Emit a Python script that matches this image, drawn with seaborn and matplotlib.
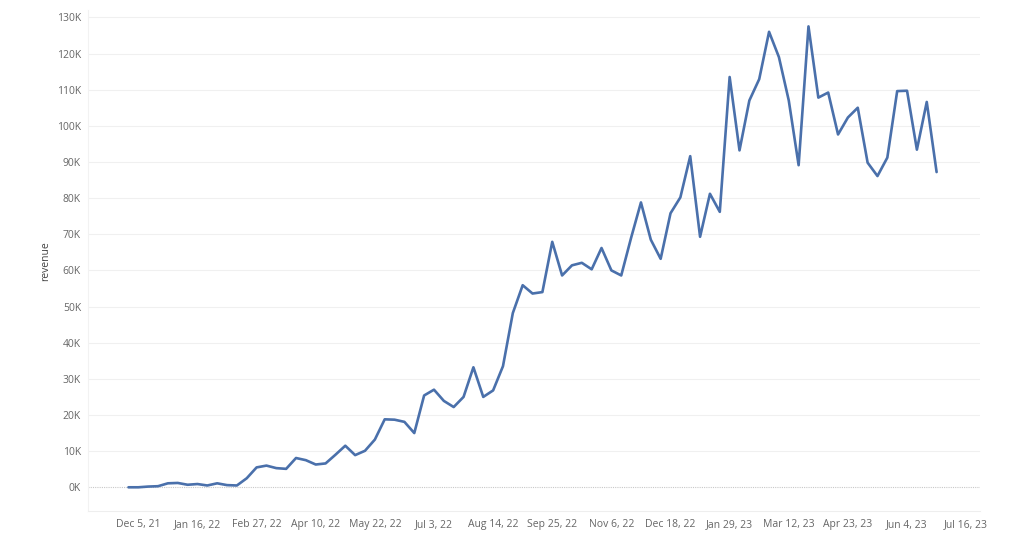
import pandas as pd
import numpy as np
import matplotlib.pyplot as plt
import seaborn as sns

# weekly revenue, in thousands, starting week of Nov 28, 2021
start_week = "2021-11-28"
revenue_k = [
    0.0, 0.0, 0.2, 0.3, 1.1, 1.2, 0.7, 0.9, 0.5, 1.1,
    0.6, 0.5, 2.5, 5.5, 6.0, 5.3, 5.1, 8.1, 7.5, 6.3,
    6.6, 9.0, 11.5, 8.9, 10.1, 13.2, 18.8, 18.7, 18.1, 15.0,
    25.4, 27.0, 23.9, 22.2, 25.0, 33.2, 25.0, 26.8, 33.5, 48.2,
    55.9, 53.6, 54.0, 67.9, 58.6, 61.4, 62.1, 60.3, 66.2, 60.0,
    58.6, 69.0, 78.8, 68.5, 63.2, 75.8, 80.2, 91.6, 69.3, 81.2,
    76.2, 113.5, 93.2, 107.0, 112.9, 126.0, 119.0, 107.0, 89.1, 127.5,
    107.8, 109.2, 97.6, 102.3, 105.0, 89.8, 86.1, 91.2, 109.6, 109.7,
    93.4, 106.6, 87.2,
]
weeks = pd.date_range(start_week, periods=len(revenue_k), freq="7D")
df = pd.DataFrame({"week": weeks, "revenue": np.array(revenue_k) * 1000})

# x tick labels every 6 weeks
tick_dates = pd.date_range("2021-12-05", periods=15, freq="42D")

sns.set_style("white")
plt.rcParams["font.family"] = ["Open Sans", "DejaVu Sans"]

fig = plt.figure(figsize=(10.24, 5.33), dpi=100)
ax = fig.add_axes([0.086, 0.041, 0.871, 0.94])

sns.lineplot(data=df, x="week", y="revenue", ax=ax, color="#4a70ab", linewidth=1.9)

ax.set_ylim(-6600, 132000)
ax.set_xlim(weeks[0] - pd.Timedelta(weeks=4.1), weeks[0] + pd.Timedelta(weeks=86.4))

ax.set_yticks(np.arange(0, 130001, 10000))
ax.set_yticklabels([f"{int(v/1000)}K" for v in np.arange(0, 130001, 10000)])
ax.set_xticks(tick_dates)
ax.set_xticklabels([f"{d.strftime('%b')} {d.day}, {d.strftime('%y')}" for d in tick_dates])

for v in np.arange(10000, 130001, 10000):
    ax.axhline(v, color="#f0f0f0", linewidth=0.8, zorder=0)
ax.axhline(0, color="#c8c8c8", linewidth=0.8, linestyle=(0, (1, 1)), zorder=0)

for s in ["top", "right"]:
    ax.spines[s].set_visible(False)
ax.spines["bottom"].set_color("#eeeeee")
ax.spines["left"].set_color("#f2f2f2")

ax.tick_params(axis="y", length=0, labelsize=7.5, labelcolor="#666666", pad=5)
ax.tick_params(axis="x", length=4, color="#e6e6e6", labelsize=7.5, labelcolor="#666666", pad=2)

ax.set_xlabel("")
ax.set_ylabel("revenue", fontsize=7.5, color="#444444", labelpad=4)

fig.savefig("out.png", dpi=100, facecolor="white")
